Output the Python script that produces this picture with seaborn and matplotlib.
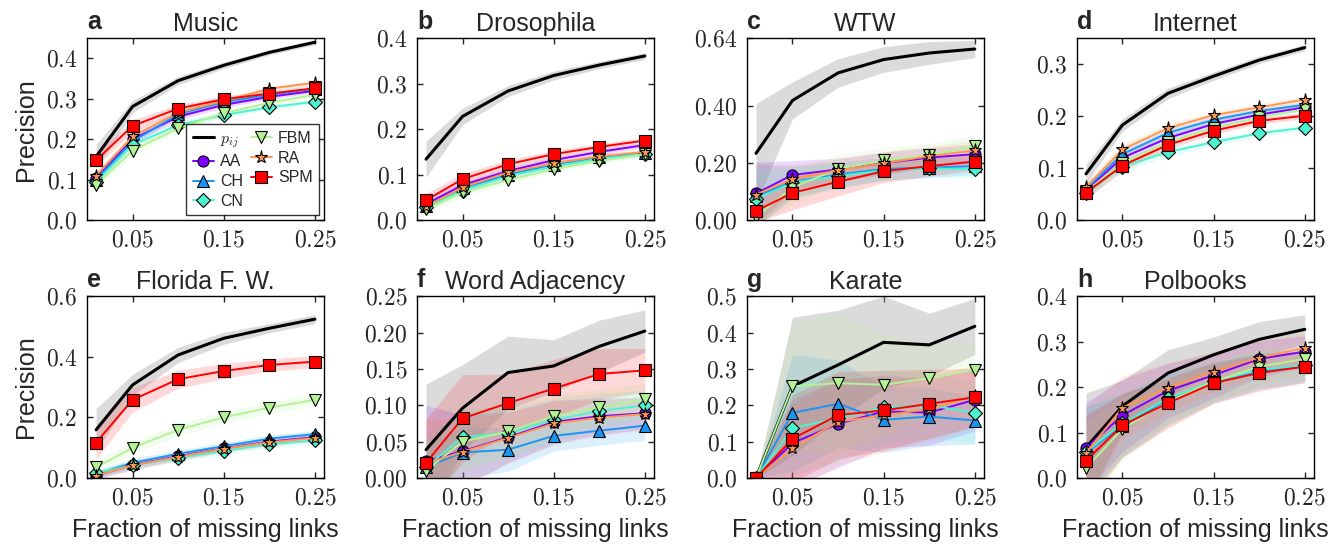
import numpy as np
import seaborn as sns
import matplotlib.pyplot as plt
from matplotlib.ticker import FixedLocator, FuncFormatter

fractions = [0.01, 0.05, 0.10, 0.15, 0.20, 0.25]
methods = ["pij", "AA", "CH", "CN", "FBM", "RA", "SPM"]
labels = {"pij": r"$p_{ij}$", "AA": "AA", "CH": "CH", "CN": "CN",
          "FBM": "FBM", "RA": "RA", "SPM": "SPM"}

# mean precision per network
music = {
    "pij": [0.157, 0.281, 0.345, 0.383, 0.415, 0.440],
    "AA":  [0.105, 0.200, 0.256, 0.285, 0.305, 0.320],
    "CH":  [0.100, 0.195, 0.262, 0.292, 0.310, 0.325],
    "CN":  [0.095, 0.186, 0.235, 0.260, 0.279, 0.293],
    "FBM": [0.087, 0.172, 0.227, 0.265, 0.290, 0.310],
    "RA":  [0.110, 0.207, 0.266, 0.295, 0.325, 0.340],
    "SPM": [0.148, 0.233, 0.276, 0.299, 0.313, 0.326],
}
music_sd = {
    "pij": [0.030, 0.015, 0.010, 0.008, 0.006, 0.006],
    "AA":  [0.012, 0.010, 0.008, 0.007, 0.006, 0.006],
    "CH":  [0.012, 0.010, 0.008, 0.007, 0.006, 0.006],
    "CN":  [0.012, 0.010, 0.008, 0.007, 0.006, 0.006],
    "FBM": [0.014, 0.012, 0.010, 0.008, 0.007, 0.007],
    "RA":  [0.012, 0.010, 0.008, 0.007, 0.006, 0.006],
    "SPM": [0.015, 0.015, 0.010, 0.008, 0.007, 0.007],
}

drosophila = {
    "pij": [0.134, 0.228, 0.284, 0.318, 0.341, 0.361],
    "AA":  [0.035, 0.077, 0.108, 0.132, 0.150, 0.165],
    "CH":  [0.032, 0.070, 0.100, 0.122, 0.138, 0.148],
    "CN":  [0.028, 0.065, 0.097, 0.118, 0.135, 0.145],
    "FBM": [0.024, 0.061, 0.088, 0.112, 0.130, 0.145],
    "RA":  [0.030, 0.072, 0.105, 0.125, 0.140, 0.150],
    "SPM": [0.044, 0.090, 0.123, 0.145, 0.161, 0.175],
}
drosophila_sd = {
    "pij": [0.040, 0.018, 0.012, 0.010, 0.008, 0.007],
    "AA":  [0.010, 0.008, 0.008, 0.007, 0.006, 0.006],
    "CH":  [0.010, 0.008, 0.008, 0.007, 0.006, 0.006],
    "CN":  [0.010, 0.008, 0.008, 0.007, 0.006, 0.006],
    "FBM": [0.010, 0.008, 0.008, 0.007, 0.006, 0.006],
    "RA":  [0.010, 0.008, 0.008, 0.007, 0.006, 0.006],
    "SPM": [0.015, 0.012, 0.010, 0.008, 0.007, 0.007],
}

wtw = {
    "pij": [0.235, 0.421, 0.518, 0.565, 0.588, 0.602],
    "AA":  [0.094, 0.159, 0.178, 0.200, 0.220, 0.232],
    "CH":  [0.085, 0.135, 0.160, 0.180, 0.185, 0.190],
    "CN":  [0.074, 0.132, 0.155, 0.175, 0.182, 0.179],
    "FBM": [0.012, 0.115, 0.180, 0.210, 0.230, 0.260],
    "RA":  [0.090, 0.145, 0.175, 0.200, 0.225, 0.245],
    "SPM": [0.032, 0.096, 0.135, 0.172, 0.190, 0.206],
}
wtw_sd = {
    "pij": [0.175, 0.065, 0.050, 0.045, 0.040, 0.030],
    "AA":  [0.110, 0.050, 0.040, 0.040, 0.035, 0.035],
    "CH":  [0.110, 0.055, 0.045, 0.040, 0.035, 0.030],
    "CN":  [0.100, 0.055, 0.045, 0.035, 0.030, 0.030],
    "FBM": [0.020, 0.060, 0.050, 0.045, 0.040, 0.035],
    "RA":  [0.110, 0.050, 0.040, 0.040, 0.035, 0.035],
    "SPM": [0.040, 0.060, 0.050, 0.040, 0.035, 0.030],
}

internet = {
    "pij": [0.089, 0.183, 0.244, 0.277, 0.308, 0.332],
    "AA":  [0.058, 0.120, 0.158, 0.185, 0.203, 0.217],
    "CH":  [0.060, 0.127, 0.168, 0.193, 0.210, 0.222],
    "CN":  [0.052, 0.103, 0.131, 0.150, 0.167, 0.178],
    "FBM": [0.055, 0.110, 0.150, 0.178, 0.198, 0.213],
    "RA":  [0.063, 0.136, 0.177, 0.202, 0.217, 0.232],
    "SPM": [0.053, 0.105, 0.145, 0.172, 0.191, 0.201],
}
internet_sd = {
    "pij": [0.018, 0.012, 0.010, 0.008, 0.007, 0.006],
    "AA":  [0.012, 0.010, 0.008, 0.007, 0.006, 0.006],
    "CH":  [0.012, 0.010, 0.008, 0.007, 0.006, 0.006],
    "CN":  [0.012, 0.010, 0.008, 0.007, 0.006, 0.006],
    "FBM": [0.012, 0.010, 0.008, 0.007, 0.006, 0.006],
    "RA":  [0.012, 0.010, 0.008, 0.007, 0.006, 0.006],
    "SPM": [0.012, 0.010, 0.008, 0.007, 0.006, 0.006],
}

florida = {
    "pij": [0.159, 0.307, 0.406, 0.461, 0.494, 0.524],
    "AA":  [0.008, 0.043, 0.072, 0.098, 0.120, 0.135],
    "CH":  [0.012, 0.050, 0.080, 0.105, 0.130, 0.145],
    "CN":  [0.016, 0.042, 0.066, 0.090, 0.112, 0.124],
    "FBM": [0.035, 0.100, 0.159, 0.200, 0.232, 0.258],
    "RA":  [0.008, 0.042, 0.070, 0.097, 0.118, 0.132],
    "SPM": [0.117, 0.258, 0.326, 0.353, 0.373, 0.384],
}
florida_sd = {
    "pij": [0.070, 0.035, 0.025, 0.020, 0.015, 0.015],
    "AA":  [0.012, 0.015, 0.012, 0.012, 0.012, 0.012],
    "CH":  [0.012, 0.015, 0.012, 0.012, 0.012, 0.012],
    "CN":  [0.012, 0.015, 0.012, 0.012, 0.012, 0.012],
    "FBM": [0.020, 0.020, 0.020, 0.020, 0.020, 0.020],
    "RA":  [0.012, 0.015, 0.012, 0.012, 0.012, 0.012],
    "SPM": [0.055, 0.040, 0.030, 0.025, 0.020, 0.020],
}

word_adj = {
    "pij": [0.039, 0.096, 0.145, 0.154, 0.181, 0.202],
    "AA":  [0.023, 0.037, 0.056, 0.077, 0.085, 0.089],
    "CH":  [0.015, 0.035, 0.039, 0.058, 0.065, 0.072],
    "CN":  [0.015, 0.056, 0.062, 0.080, 0.092, 0.100],
    "FBM": [0.010, 0.050, 0.064, 0.085, 0.097, 0.108],
    "RA":  [0.020, 0.036, 0.055, 0.075, 0.083, 0.088],
    "SPM": [0.021, 0.082, 0.103, 0.123, 0.143, 0.148],
}
word_adj_sd = {
    "pij": [0.090, 0.060, 0.050, 0.036, 0.036, 0.029],
    "AA":  [0.077, 0.050, 0.035, 0.030, 0.025, 0.022],
    "CH":  [0.030, 0.035, 0.030, 0.021, 0.020, 0.020],
    "CN":  [0.040, 0.040, 0.035, 0.030, 0.025, 0.020],
    "FBM": [0.040, 0.040, 0.035, 0.030, 0.025, 0.022],
    "RA":  [0.060, 0.045, 0.035, 0.030, 0.025, 0.022],
    "SPM": [0.060, 0.060, 0.040, 0.040, 0.035, 0.030],
}

karate = {
    "pij": [0.000, 0.252, 0.311, 0.373, 0.366, 0.417],
    "AA":  [0.000, 0.096, 0.149, 0.183, 0.180, 0.215],
    "CH":  [0.000, 0.179, 0.204, 0.160, 0.169, 0.158],
    "CN":  [0.000, 0.137, 0.165, 0.194, 0.200, 0.180],
    "FBM": [0.000, 0.252, 0.261, 0.256, 0.275, 0.298],
    "RA":  [0.000, 0.082, 0.155, 0.172, 0.190, 0.225],
    "SPM": [0.000, 0.108, 0.173, 0.186, 0.204, 0.222],
}
karate_sd = {
    "pij": [0.000, 0.190, 0.150, 0.127, 0.087, 0.077],
    "AA":  [0.000, 0.120, 0.120, 0.100, 0.090, 0.085],
    "CH":  [0.000, 0.160, 0.120, 0.090, 0.080, 0.065],
    "CN":  [0.000, 0.130, 0.120, 0.100, 0.090, 0.085],
    "FBM": [0.000, 0.180, 0.190, 0.140, 0.100, 0.075],
    "RA":  [0.000, 0.120, 0.120, 0.100, 0.090, 0.085],
    "SPM": [0.000, 0.120, 0.120, 0.110, 0.095, 0.080],
}

polbooks = {
    "pij": [0.067, 0.158, 0.231, 0.271, 0.305, 0.327],
    "AA":  [0.066, 0.138, 0.192, 0.226, 0.262, 0.278],
    "CH":  [0.056, 0.115, 0.172, 0.210, 0.235, 0.245],
    "CN":  [0.058, 0.120, 0.175, 0.213, 0.238, 0.248],
    "FBM": [0.022, 0.108, 0.168, 0.212, 0.245, 0.262],
    "RA":  [0.055, 0.155, 0.199, 0.234, 0.265, 0.286],
    "SPM": [0.038, 0.116, 0.165, 0.209, 0.231, 0.245],
}
polbooks_sd = {
    "pij": [0.120, 0.057, 0.051, 0.039, 0.039, 0.032],
    "AA":  [0.100, 0.080, 0.060, 0.050, 0.040, 0.035],
    "CH":  [0.100, 0.070, 0.055, 0.045, 0.040, 0.035],
    "CN":  [0.100, 0.070, 0.055, 0.045, 0.040, 0.035],
    "FBM": [0.100, 0.070, 0.055, 0.045, 0.040, 0.035],
    "RA":  [0.100, 0.070, 0.055, 0.045, 0.040, 0.035],
    "SPM": [0.100, 0.070, 0.055, 0.045, 0.040, 0.035],
}

panels = [
    ("a", "Music", music, music_sd, [0, 0.1, 0.2, 0.3, 0.4], 0.45, 1),
    ("b", "Drosophila", drosophila, drosophila_sd, [0, 0.1, 0.2, 0.3, 0.4], 0.40, 1),
    ("c", "WTW", wtw, wtw_sd, [0, 0.2, 0.4, 0.64], 0.64, 2),
    ("d", "Internet", internet, internet_sd, [0, 0.1, 0.2, 0.3], 0.35, 1),
    ("e", "Florida F. W.", florida, florida_sd, [0, 0.2, 0.4, 0.6], 0.60, 1),
    ("f", "Word Adjacency", word_adj, word_adj_sd,
     [0, 0.05, 0.1, 0.15, 0.2, 0.25], 0.25, 2),
    ("g", "Karate", karate, karate_sd, [0, 0.1, 0.2, 0.3, 0.4, 0.5], 0.50, 1),
    ("h", "Polbooks", polbooks, polbooks_sd, [0, 0.1, 0.2, 0.3, 0.4], 0.40, 1),
]

rainbow = plt.get_cmap("rainbow")(np.linspace(0, 1, 6))
colors = {"pij": "black"}
for m, c in zip(methods[1:], rainbow):
    colors[m] = c
markers = {"pij": None, "AA": "o", "CH": "^", "CN": "D",
           "FBM": "v", "RA": "*", "SPM": "s"}
msizes = {"AA": 8, "CH": 8, "CN": 7.5, "FBM": 8, "RA": 9.5, "SPM": 8}

sns.set_style("ticks")
plt.rcParams["font.family"] = ["Liberation Sans", "DejaVu Sans"]
plt.rcParams["mathtext.fontset"] = "cm"
plt.rcParams["xtick.direction"] = "in"
plt.rcParams["ytick.direction"] = "in"
plt.rcParams["xtick.top"] = True
plt.rcParams["ytick.right"] = True

fig, axes = plt.subplots(2, 4, figsize=(13.38, 5.46), dpi=100)
fig.subplots_adjust(left=0.065, right=0.982, top=0.930, bottom=0.1245,
                    wspace=0.392, hspace=0.418)

for ax, (letter, name, mean, sd, yticks, ytop, nd) in zip(axes.flat, panels):
    # shaded bands first
    for m in methods:
        lo = np.array(mean[m]) - np.array(sd[m])
        hi = np.array(mean[m]) + np.array(sd[m])
        if m == "pij":
            ax.fill_between(fractions, lo, hi, color="0.65", alpha=0.4, lw=0)
        else:
            ax.fill_between(fractions, lo, hi, color=colors[m], alpha=0.15, lw=0)
    for m in methods:
        if m == "pij":
            sns.lineplot(x=fractions, y=mean[m], ax=ax, color="black", lw=2.2,
                         label=labels[m])
        else:
            sns.lineplot(x=fractions, y=mean[m], ax=ax, color=colors[m], lw=1.4,
                         marker=markers[m], markersize=msizes[m],
                         markeredgecolor="black", markeredgewidth=0.8,
                         label=labels[m])
    ax.set_xlim(0, 0.26)
    ax.set_ylim(0, ytop)
    ax.xaxis.set_major_locator(FixedLocator([0.05, 0.15, 0.25]))
    ax.yaxis.set_major_locator(FixedLocator(yticks))
    ax.xaxis.set_major_formatter(FuncFormatter(lambda v, p: rf"${v:.2f}$"))
    ax.yaxis.set_major_formatter(
        FuncFormatter(lambda v, p, nd=nd: rf"${v:.{nd}f}$"))
    ax.tick_params(labelsize=17, length=4.5, width=1, pad=7)
    for s in ax.spines.values():
        s.set_linewidth(1)
        s.set_color("black")
    ax.set_title(name, fontsize=18, pad=5)
    ax.text(0.0, 1.025, letter, transform=ax.transAxes, fontsize=18,
            fontweight="bold", ha="left", va="bottom")
    if letter == "a":
        ax.legend(ncol=2, loc="lower right", fontsize=11.5, frameon=True,
                  fancybox=False, edgecolor="black", handlelength=1.3,
                  columnspacing=0.5, borderaxespad=0.3, labelspacing=0.3,
                  handletextpad=0.4, borderpad=0.4)
    else:
        ax.get_legend().remove()
    if letter in ("a", "e"):
        ax.set_ylabel("Precision", fontsize=18, labelpad=6)
    if letter in ("e", "f", "g", "h"):
        ax.set_xlabel("Fraction of missing links", fontsize=18, labelpad=6)

plt.savefig("out.png", dpi=100)
